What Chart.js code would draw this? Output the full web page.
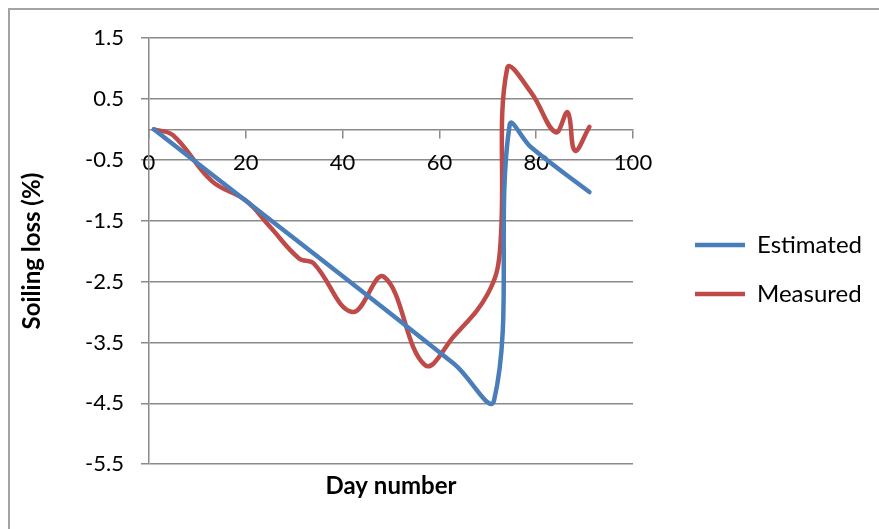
<!DOCTYPE html>
<html>
<head>
<meta charset="utf-8">
<script src="https://cdn.jsdelivr.net/npm/chart.js@4/dist/chart.umd.min.js"></script>
<style>
  html, body { margin: 0; padding: 0; background: #ffffff; }
  #wrap { position: relative; width: 879px; height: 529px; overflow: hidden; }
  #frame { position: absolute; left: 8px; top: 8px; width: 900px; height: 600px;
           border-top: 2px solid #a3a3a3; border-left: 2px solid #a3a3a3; box-sizing: border-box; }
  canvas { position: absolute; left: 0; top: 0; }
</style>
</head>
<body>
<div id="wrap">
  <div id="frame"></div>
  <canvas id="c" width="879" height="529"></canvas>
</div>
<script>
// ---- data ----
const seriesNames = ["Estimated", "Measured"];
const estDays   = [1, 63, 71.3, 74.5, 79, 91];
const estValues = [0, -3.85, -4.45, 0.07, -0.3, -1.03];
const measDays   = [1, 5, 13, 20, 25, 31, 34, 42, 48.5, 57, 63, 70, 72.5, 74, 79, 84, 86.5, 88, 91];
const measValues = [0, -0.1, -0.85, -1.17, -1.6, -2.12, -2.2, -3.0, -2.42, -3.87, -3.4, -2.7, -2.0, 1.0, 0.6, -0.05, 0.28, -0.35, 0.04];
const xTicks = [0, 20, 40, 60, 80, 100];
const yTicks = [1.5, 0.5, -0.5, -1.5, -2.5, -3.5, -4.5, -5.5];
const yTickLabels = ["1.5", "0.5", "-0.5", "-1.5", "-2.5", "-3.5", "-4.5", "-5.5"];
const xTitle = "Day number";
const yTitle = "Soiling loss (%)";

const BLUE = "#4A7EBB";
const RED = "#BE4B48";
const GRID = "#8a8a8a";
const FONT = "Lato";

function pts(xs, ys) { return xs.map((x, i) => ({ x: x, y: ys[i] })); }

// keep the legend box at a fixed width (like afterFit for scales)
const legendWidthPlugin = {
  id: "legendWidth",
  beforeLayout(chart) {
    const lg = chart.legend;
    if (lg && !lg._fixedFit) {
      const orig = lg.fit.bind(lg);
      lg.fit = function () { orig(); this.width = 209; };
      lg._fixedFit = true;
    }
  }
};

const ctx = document.getElementById("c").getContext("2d");
new Chart(ctx, {
  type: "line",
  data: {
    datasets: [
      { label: seriesNames[0], data: pts(estDays, estValues), borderColor: BLUE, backgroundColor: BLUE,
        borderWidth: 4.5, pointRadius: 0, tension: 0.4, borderCapStyle: "round", borderJoinStyle: "round", fill: false },
      { label: seriesNames[1], data: pts(measDays, measValues), borderColor: RED, backgroundColor: RED,
        borderWidth: 4.5, pointRadius: 0, tension: 0.4, borderCapStyle: "round", borderJoinStyle: "round", fill: false }
    ]
  },
  plugins: [legendWidthPlugin],
  options: {
    responsive: false,
    animation: false,
    devicePixelRatio: 1,
    layout: { padding: { top: 38, right: 0, bottom: 0, left: 0 } },
    scales: {
      x: {
        type: "linear",
        position: { y: 0 },
        min: 0, max: 100,
        afterBuildTicks: (s) => { s.ticks = xTicks.map(v => ({ value: v })); },
        ticks: { color: "#000", font: { family: FONT, size: 22 }, padding: 12, maxRotation: 0, autoSkip: false },
        grid: { display: true, drawOnChartArea: false, drawTicks: true, tickLength: 8, color: GRID, lineWidth: 1.5 },
        border: { display: true, color: GRID, width: 1.5 },
        title: { display: false }
      },
      y: {
        type: "linear",
        position: "left",
        min: -5.5, max: 1.5,
        afterBuildTicks: (s) => { s.ticks = yTicks.map(v => ({ value: v })); },
        afterFit: (s) => { s.width = 149; },
        ticks: { color: "#000", font: { family: FONT, size: 22 }, padding: 17,
                 callback: (v) => { const i = yTicks.indexOf(v); return i >= 0 ? yTickLabels[i] : ""; } },
        grid: { display: true, drawOnChartArea: true, drawTicks: true, tickLength: 8, color: GRID, lineWidth: 1.5 },
        border: { display: true, color: GRID, width: 1.5 },
        title: { display: true, text: yTitle, color: "#000", font: { family: FONT, size: 24, weight: "bold" }, padding: { top: 18 } }
      },
      gap: {
        type: "linear",
        position: "right",
        display: true,
        afterFit: (s) => { s.width = 37; },
        ticks: { display: false },
        grid: { display: false },
        border: { display: false }
      }
    },
    plugins: {
      legend: {
        position: "right",
        align: "start",
        title: { display: true, text: "", font: { size: 10 }, padding: 79 },
        labels: { color: "#000", font: { family: FONT, size: 24 }, usePointStyle: true, pointStyle: "line",
                  pointStyleWidth: 50, padding: 25 }
      },
      title: {
        display: true, position: "bottom", fullSize: false, text: xTitle, color: "#000",
        font: { family: FONT, size: 24, weight: "bold" }, padding: { top: 8, bottom: 28 }
      },
      tooltip: { enabled: false }
    }
  }
});
</script>
</body>
</html>
